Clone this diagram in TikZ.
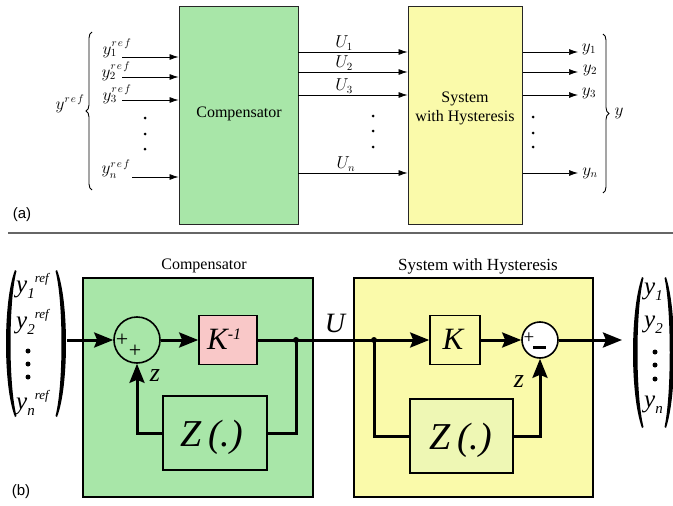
\documentclass[tikz,border=0pt]{standalone}
\usepackage{fontspec}
\newfontfamily\tms{Liberation Serif}
\newfontfamily\ars{Liberation Sans}
\usetikzlibrary{arrows.meta,decorations.pathreplacing}
\definecolor{cgreen}{HTML}{A8E6A8}
\definecolor{cyellow}{HTML}{FAFAAA}
\definecolor{cpink}{HTML}{F9C8C8}
\definecolor{czs}{HTML}{EEF7B4}
\newcommand{\bsub}[1]{\raisebox{-6.5pt}{\fontsize{15}{15}\selectfont #1}}
\newcommand{\bsup}[1]{\raisebox{10pt}{\fontsize{13}{13}\selectfont #1}}
\newcommand{\refx}{r\mkern2mu e\mkern2mu f}
\begin{document}
\begin{tikzpicture}[x=1pt,y=-1pt,
  abox/.style={draw=black!85, line width=1pt, inner sep=0pt},
  athin/.style={line width=0.7pt, -{Latex[length=9pt,width=6pt]}},
  alab/.style={font=\fontsize{16}{19}\selectfont, inner sep=0pt},
  bbox/.style={draw=black, line width=1.6pt, inner sep=0pt},
  bline/.style={line width=3pt},
  barrow/.style={line width=3pt, -{Stealth[length=19pt,width=15pt,inset=3pt]}},
  btxt/.style={font=\tms\itshape\fontsize{25}{25}\selectfont, inner sep=0pt, anchor=base west},
  ttl/.style={font=\tms\fontsize{16}{19}\selectfont, inner sep=0pt},
  dotn/.style={circle, fill, inner sep=0pt, minimum size=3pt},
  bdot/.style={circle, fill, inner sep=0pt, minimum size=5pt}
]
\useasboundingbox (0,0) rectangle (673,506);

% ---------------- (a) ----------------
\node[abox, fill=cgreen, minimum width=119pt, minimum height=218pt] (compA) at (238.5,115) {};
\node[ttl] (compAt) at (239,114) {Compensator};
\node[abox, fill=cyellow, minimum width=114pt, minimum height=218pt] (sysA) at (465,115) {};
\node[ttl, align=center] (sysAt) at (465,108) {System\\with Hysteresis};

% inputs
\coordinate (i1) at (122,57);
\coordinate (i2) at (122,77);
\coordinate (i3) at (122,100);
\coordinate (in) at (132,177);
\draw[athin] (i1) -- (i1 -| compA.west);
\draw[athin] (i2) -- (i2 -| compA.west);
\draw[athin] (i3) -- (i3 -| compA.west);
\draw[athin] (in) -- (in -| compA.west);
\node[alab] (ly1) at (117,48) {$y_1^{\refx}$};
\node[alab] (ly2) at (116,71) {$y_2^{\refx}$};
\node[alab] (ly3) at (117,94) {$y_3^{\refx}$};
\node[alab] (lyn) at (116,169) {$y_n^{\refx}$};
\node[dotn] (da1) at (145,118) {};
\node[dotn] (da2) at (145,134) {};
\node[dotn] (da3) at (145,149) {};
\draw[line width=0.9pt, decorate, decoration={brace, amplitude=6pt}] (92,190) -- (92,32);
\node[alab] (lyref) at (70,104) {$y^{\refx}$};

% U lines
\coordinate (u1) at (298,52);
\coordinate (u2) at (298,72);
\coordinate (u3) at (298,95);
\coordinate (un) at (298,173);
\draw[athin] (u1) -- (u1 -| sysA.west);
\draw[athin] (u2) -- (u2 -| sysA.west);
\draw[athin] (u3) -- (u3 -| sysA.west);
\draw[athin] (un) -- (un -| sysA.west);
\node[alab] (lu1) at (344,43) {$U_1$};
\node[alab] (lu2) at (344,63) {$U_2$};
\node[alab] (lu3) at (344,86) {$U_3$};
\node[alab] (lun) at (346,164) {$U_n$};
\node[dotn] (db1) at (373,116) {};
\node[dotn] (db2) at (373,131) {};
\node[dotn] (db3) at (373,147) {};

% outputs
\coordinate (o1) at (578,52);
\coordinate (o2) at (578,72);
\coordinate (o3) at (578,95);
\coordinate (on) at (578,173);
\draw[athin] (o1 -| sysA.east) -- (o1);
\draw[athin] (o2 -| sysA.east) -- (o2);
\draw[athin] (o3 -| sysA.east) -- (o3);
\draw[athin] (on -| sysA.east) -- (on);
\node[alab] (ly1o) at (589,49) {$y_1$};
\node[alab] (ly2o) at (590,70) {$y_2$};
\node[alab] (ly3o) at (589,93) {$y_3$};
\node[alab] (lyno) at (590,173) {$y_n$};
\node[dotn] (dc1) at (533,117) {};
\node[dotn] (dc2) at (533,133) {};
\node[dotn] (dc3) at (533,147) {};
\draw[line width=0.9pt, decorate, decoration={brace, amplitude=6pt}] (603,34) -- (603,193);
\node[alab] (lyo) at (619,113) {$y$};

\node[font=\ars\fontsize{15}{15}\selectfont, inner sep=0pt] (la) at (22,215) {(a)};

\draw[line width=1.3pt, black!60] (8,233) -- (673,233);

% ---------------- (b) ----------------
\node[bbox, fill=cgreen, minimum width=230pt, minimum height=219pt] (compB) at (198,387.5) {};
\node[bbox, fill=cyellow, minimum width=239pt, minimum height=219pt] (sysB) at (473.5,387.5) {};
\node[ttl] (compBt) at (204,266) {Compensator};
\node[ttl, font=\tms\fontsize{17}{19}\selectfont] (sysBt) at (478,266) {System with Hysteresis};

% compensator internals
\node[circle, draw, line width=1.6pt, minimum size=46pt, inner sep=0pt] (s1) at (137,340) {};
\node[font=\tms\fontsize{22}{22}\selectfont, inner sep=0pt] (p1) at (122,340) {+};
\node[font=\tms\fontsize{22}{22}\selectfont, inner sep=0pt] (p2) at (135,351) {+};
\node[bbox, fill=cpink, minimum width=58pt, minimum height=49pt] (kinv) at (228,340) {};
\node[inner sep=0pt, anchor=base west, font=\tms\itshape\fontsize{31}{31}\selectfont] (kinvt) at (207,349) {K\raisebox{10pt}{\fontsize{16}{16}\selectfont -1}};
\node[bdot, minimum size=6pt] (j1) at (296,340) {};
\node[bbox, fill=cgreen, minimum width=104pt, minimum height=74pt] (zc) at (215,433) {};
\node[inner sep=0pt, font=\tms\itshape\fontsize{38}{38}\selectfont] (zct) at (212,437) {Z\,(.)};
\node[inner sep=0pt, font=\tms\itshape\fontsize{26}{26}\selectfont] (zl1) at (155,376) {z};

% system internals
\node[bdot, minimum size=6pt] (j2) at (374,340) {};
\node[bbox, fill=cyellow, minimum width=50pt, minimum height=49pt] (kb) at (455,340) {};
\node[inner sep=0pt, font=\tms\itshape\fontsize{31}{31}\selectfont] (kbt) at (453,339) {K};
\node[circle, draw, fill=white, line width=1.6pt, minimum size=36pt, inner sep=0pt] (s2) at (540,340) {};
\node[font=\tms\fontsize{19}{19}\selectfont, inner sep=0pt] (p3) at (529,338) {+};
\fill (533,345.5) rectangle (546,349);
\node[bbox, fill=czs, minimum width=103pt, minimum height=74pt] (zs) at (461.5,436) {};
\node[inner sep=0pt, font=\tms\itshape\fontsize{38}{38}\selectfont] (zst) at (461,440) {Z\,(.)};
\node[inner sep=0pt, font=\tms\itshape\fontsize{26}{26}\selectfont] (zl2) at (519,382) {z};

\node[inner sep=0pt, font=\tms\itshape\fontsize{28}{28}\selectfont] (ul) at (335,323) {U};

% connectors
\coordinate (inB) at (67,340);
\coordinate (outB) at (622,340);
\draw[barrow] (inB) -- (s1.west);
\draw[barrow] (s1.east) -- (kinv.west);
\draw[bline] (kinv.east) -- (j1.center);
\draw[barrow] (j1.center) -- (kb.west);
\draw[bline] (j1.center) |- (zc.east);
\draw[barrow] (zc.west) -| (s1.south);
\draw[bline] (j2.center) |- (zs.west);
\draw[barrow] (zs.east) -| (s2.south);
\draw[barrow] (kb.east) -- (s2.west);
\draw[barrow] (s2.east) -- (outB);

% left matrix
\fill (15,270) .. controls (3,300) and (3,387) .. (15,417) -- (16.5,416) .. controls (8.5,385) and (8.5,302) .. (16.5,271) -- cycle;
\fill (57,270) .. controls (69,300) and (69,387) .. (57,417) -- (55.5,416) .. controls (63.5,385) and (63.5,302) .. (55.5,271) -- cycle;
\node[btxt] (m1) at (16,292) {y\bsub{1}\bsup{ref}};
\node[btxt] (m2) at (16,328) {y\bsub{2}\bsup{ref}};
\node[btxt] (mn) at (16,409) {y\bsub{n}\bsup{ref}};
\node[bdot] (md1) at (28,351) {};
\node[bdot] (md2) at (28,364) {};
\node[bdot] (md3) at (28,377) {};

% right matrix
\fill (642,277) .. controls (630,310) and (630,395) .. (642,428) -- (643.5,427) .. controls (635.5,395) and (635.5,310) .. (643.5,278) -- cycle;
\fill (666,277) .. controls (677,310) and (677,395) .. (666,428) -- (664.5,427) .. controls (671.5,395) and (671.5,310) .. (664.5,278) -- cycle;
\node[btxt] (r1) at (644,294) {y\bsub{1}};
\node[btxt] (r2) at (644,327) {y\bsub{2}};
\node[btxt] (rn) at (644,407) {y\bsub{n}};
\node[bdot] (rd1) at (655,352) {};
\node[bdot] (rd2) at (655,365) {};
\node[bdot] (rd3) at (655,379) {};

\node[font=\ars\fontsize{15}{15}\selectfont, inner sep=0pt] (lb) at (21,492) {(b)};
\end{tikzpicture}
\end{document}
